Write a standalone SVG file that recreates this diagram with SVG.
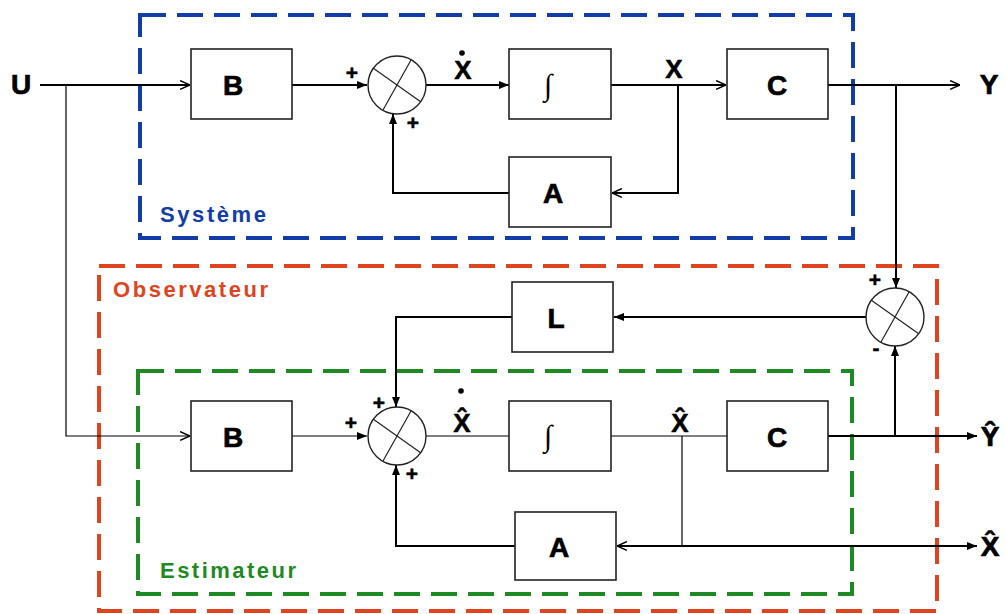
<svg xmlns="http://www.w3.org/2000/svg" width="1006" height="614" viewBox="0 0 1006 614">
<style>
text{font-family:"Liberation Sans",Arial,sans-serif;font-weight:bold;fill:#000}
.box{fill:#fff;stroke:#222;stroke-width:1.6}
.lbl{font-size:28px;text-anchor:middle;stroke:#000;stroke-width:0.7}
.var{font-size:26px;text-anchor:middle;stroke:#000;stroke-width:0.5}
.int{font-family:"Liberation Serif",serif;font-weight:normal;font-style:italic;font-size:30px;text-anchor:middle}
.sum{fill:#fff;stroke:#222;stroke-width:1.4}
.sx{stroke:#222;stroke-width:1.2}
.sign{font-size:21px;text-anchor:middle;stroke:#000;stroke-width:0.5}
.w{fill:none;stroke:#000;stroke-width:2}
.t{fill:none;stroke:#000;stroke-width:1.2}
.frame{fill:none;stroke-width:4;stroke-dasharray:26 11}
.ft{font-size:22px}
</style>
<defs>
<marker id="fa" viewBox="0 0 10 10" refX="10" refY="5" markerWidth="10" markerHeight="10" markerUnits="userSpaceOnUse" orient="auto"><path d="M0,1 L10,5 L0,9 z" fill="#000"/></marker>
<marker id="oa" viewBox="0 0 10 10" refX="10" refY="5" markerWidth="11" markerHeight="11" markerUnits="userSpaceOnUse" orient="auto"><path d="M1,1 L10,5 L1,9" fill="none" stroke="#000" stroke-width="1.4"/></marker>
</defs>
<rect width="1006" height="614" fill="#fff"/>

<g id="frames">
<rect id="systeme" class="frame" x="140" y="15" width="713" height="223" stroke="#123ca8"/>
<rect id="observateur" class="frame" x="99" y="266" width="838" height="345" stroke="#e0441e"/>
<rect id="estimateur" class="frame" x="138" y="371" width="714" height="223" stroke="#1e8a22"/>
<text class="ft" x="160" y="222" style="fill:#123ca8" textLength="106">Système</text>
<text class="ft" x="113" y="297" style="fill:#e0441e" textLength="155">Observateur</text>
<text class="ft" x="160" y="578" style="fill:#1e8a22" textLength="136">Estimateur</text>
</g>

<g id="connectors">
<path class="w" d="M40 85 H190" marker-end="url(#oa)"/>
<path class="w" d="M292 85 H367" marker-end="url(#fa)"/>
<path class="w" d="M426 85 H509" marker-end="url(#fa)"/>
<path class="w" d="M611 85 H726" marker-end="url(#oa)"/>
<path class="w" d="M828 85 H960" marker-end="url(#oa)"/>
<path class="w" d="M678 85 V193 H612" marker-end="url(#oa)"/>
<path class="w" d="M509 193 H393 V114" marker-end="url(#fa)"/>
<path class="w" d="M896 85 V288" marker-end="url(#fa)"/>
<path class="t" d="M66 85 V436 H190" marker-end="url(#oa)"/>
<path class="t" d="M292 436 H367" marker-end="url(#fa)"/>
<path class="t" d="M426 436 H509"/>
<path class="t" d="M611 436 H727"/>
<path class="w" d="M828 436 H977" marker-end="url(#fa)"/>
<path class="w" d="M895 436 V346" marker-end="url(#fa)"/>
<path class="w" d="M866 317 H614" marker-end="url(#fa)"/>
<path class="w" d="M512 317 H396 V407" marker-end="url(#fa)"/>
<path class="t" d="M682 436 V546"/>
<path class="w" d="M682 546 H617" marker-end="url(#oa)"/>
<path class="w" d="M682 546 H977" marker-end="url(#fa)"/>
<path class="w" d="M515 546 H396 V465" marker-end="url(#fa)"/>
</g>

<g id="U"><text class="lbl" x="21" y="94">U</text></g>
<g id="Y"><text class="lbl" x="989" y="94">Y</text></g>
<g id="Yhat"><text class="lbl" x="990" y="446">Ŷ</text></g>
<g id="Xhat-out"><text class="lbl" x="990" y="556">X̂</text></g>

<g id="B1"><rect class="box" x="191" y="49" width="101" height="70"/><text class="lbl" x="233" y="95">B</text></g>
<g id="sum1"><circle class="sum" cx="397" cy="85" r="29"/><path class="sx" d="M373 68 L421 102 M411 60 L383 110"/>
<text class="sign" x="352" y="80">+</text><text class="sign" x="413" y="130">+</text></g>
<g id="Xdot-label"><circle cx="462" cy="53" r="2.8" fill="#000"/><text class="var" x="463" y="79">X</text></g>
<g id="int1"><rect class="box" x="509" y="49" width="102" height="70"/><text class="int" x="548" y="95">∫</text></g>
<g id="X-label"><text class="var" x="674" y="78">X</text></g>
<g id="C1"><rect class="box" x="727" y="49" width="101" height="70"/><text class="lbl" x="777" y="95">C</text></g>
<g id="A1"><rect class="box" x="509" y="157" width="102" height="70"/><text class="lbl" x="553" y="203">A</text></g>

<g id="L"><rect class="box" x="512" y="282" width="101" height="70"/><text class="lbl" x="556" y="328">L</text></g>
<g id="sum2"><circle class="sum" cx="895" cy="317" r="29"/><path class="sx" d="M871 300 L919 334 M909 292 L881 342"/>
<text class="sign" x="875" y="287">+</text><text class="sign" x="876" y="355">-</text></g>

<g id="B2"><rect class="box" x="191" y="401" width="101" height="70"/><text class="lbl" x="233" y="447">B</text></g>
<g id="sum3"><circle class="sum" cx="397" cy="436" r="29"/><path class="sx" d="M373 419 L421 453 M411 411 L383 461"/>
<text class="sign" x="379" y="410">+</text><text class="sign" x="351" y="430">+</text><text class="sign" x="412" y="481">+</text></g>
<g id="Xhatdot-label"><circle cx="461" cy="391" r="2.8" fill="#000"/><text class="var" x="462" y="432">X̂</text></g>
<g id="int2"><rect class="box" x="509" y="401" width="102" height="70"/><text class="int" x="548" y="446">∫</text></g>
<g id="Xhat-label"><text class="var" x="680" y="432">X̂</text></g>
<g id="C2"><rect class="box" x="727" y="401" width="101" height="70"/><text class="lbl" x="777" y="447">C</text></g>
<g id="A2"><rect class="box" x="515" y="512" width="101" height="68"/><text class="lbl" x="559" y="557">A</text></g>
</svg>
